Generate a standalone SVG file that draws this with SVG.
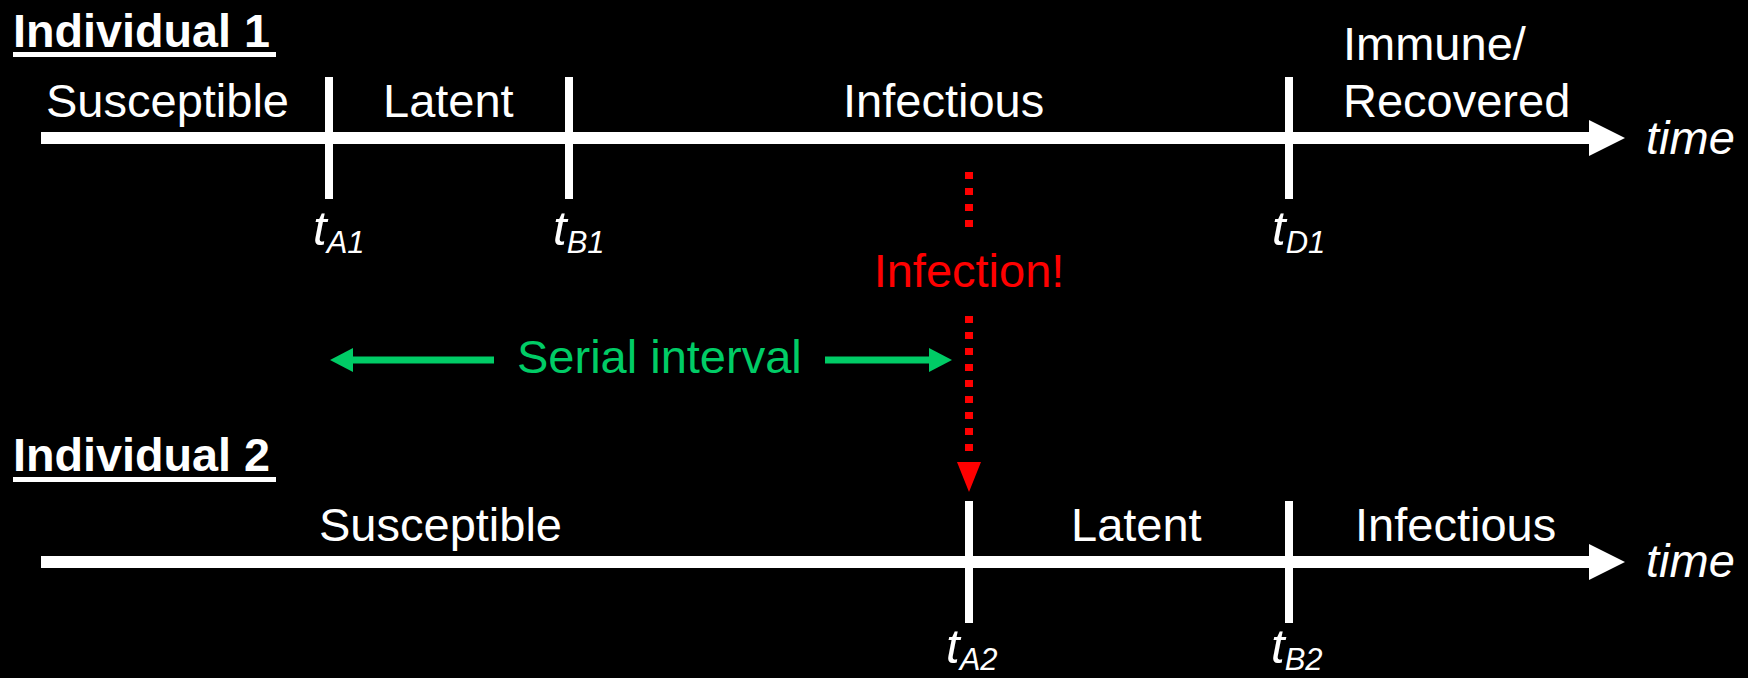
<svg xmlns="http://www.w3.org/2000/svg" width="1748" height="678" viewBox="0 0 1748 678">
<style>
.lbl{font-family:"Liberation Sans",Arial,sans-serif;font-size:47px;fill:#fff}
.hdr{font-family:"Liberation Sans",Arial,sans-serif;font-size:46px;font-weight:bold;fill:#fff}
.it{font-family:"Liberation Sans",Arial,sans-serif;font-style:italic;fill:#fff}
.tick{stroke:#fff;stroke-width:8}
.axis{stroke:#fff;stroke-width:12}
.grn{stroke:#00CC66;stroke-width:7}
.red{stroke:#FF0000;stroke-width:8;stroke-dasharray:7 9}
</style>
<rect width="1748" height="678" fill="#000"/>
<g id="individual1">
<text class="hdr" x="13" y="47" textLength="257" lengthAdjust="spacingAndGlyphs">Individual 1</text>
<rect x="13" y="52" width="263" height="5" fill="#fff"/>
<line class="axis" x1="41" y1="138" x2="1592" y2="138"/>
<polygon points="1589,120 1625,138 1589,156" fill="#fff"/>
<line class="tick" x1="329" y1="77" x2="329" y2="199"/>
<line class="tick" x1="569" y1="77" x2="569" y2="199"/>
<line class="tick" x1="1289" y1="77" x2="1289" y2="199"/>
<text class="lbl" x="46" y="117">Susceptible</text>
<text class="lbl" x="383" y="117">Latent</text>
<text class="lbl" x="843" y="117">Infectious</text>
<text class="lbl" x="1343" y="60">Immune/</text>
<text class="lbl" x="1343" y="117">Recovered</text>
<text class="it" x="1646" y="154" font-size="47">time</text>
<text class="it" x="313" y="245" font-size="49">t<tspan font-size="31" dy="8">A1</tspan></text>
<text class="it" x="553" y="245" font-size="49">t<tspan font-size="31" dy="8">B1</tspan></text>
<text class="it" x="1272" y="245" font-size="49">t<tspan font-size="31" dy="8">D1</tspan></text>
</g>
<g id="individual2">
<text class="hdr" x="13" y="471" textLength="257" lengthAdjust="spacingAndGlyphs">Individual 2</text>
<rect x="13" y="477" width="263" height="5" fill="#fff"/>
<line class="axis" x1="41" y1="562" x2="1592" y2="562"/>
<polygon points="1589,544 1625,562 1589,580" fill="#fff"/>
<line class="tick" x1="969" y1="501" x2="969" y2="623"/>
<line class="tick" x1="1289" y1="501" x2="1289" y2="623"/>
<text class="lbl" x="319" y="541">Susceptible</text>
<text class="lbl" x="1071" y="541">Latent</text>
<text class="lbl" x="1355" y="541">Infectious</text>
<text class="it" x="1646" y="577" font-size="47">time</text>
<text class="it" x="946" y="663" font-size="49">t<tspan font-size="31" dy="7">A2</tspan></text>
<text class="it" x="1271" y="663" font-size="49">t<tspan font-size="31" dy="7">B2</tspan></text>
</g>
<g id="infection">
<text class="lbl" x="969" y="287" text-anchor="middle" style="fill:#FF0000">Infection!</text>
</g>
<g id="serial-interval">
<text class="lbl" x="517" y="373" style="fill:#00CC66">Serial interval</text>
</g>
<g id="connectors">
<line class="red" x1="969" y1="172" x2="969" y2="228"/>
<line class="red" x1="969" y1="316" x2="969" y2="452"/>
<polygon points="957,462 981,462 969,492" fill="#FF0000"/>
<line class="grn" x1="350" y1="360" x2="494" y2="360"/>
<polygon points="330,360 353,348 353,372" fill="#00CC66"/>
<line class="grn" x1="825" y1="360" x2="932" y2="360"/>
<polygon points="952,360 929,348 929,372" fill="#00CC66"/>
</g>
</svg>
